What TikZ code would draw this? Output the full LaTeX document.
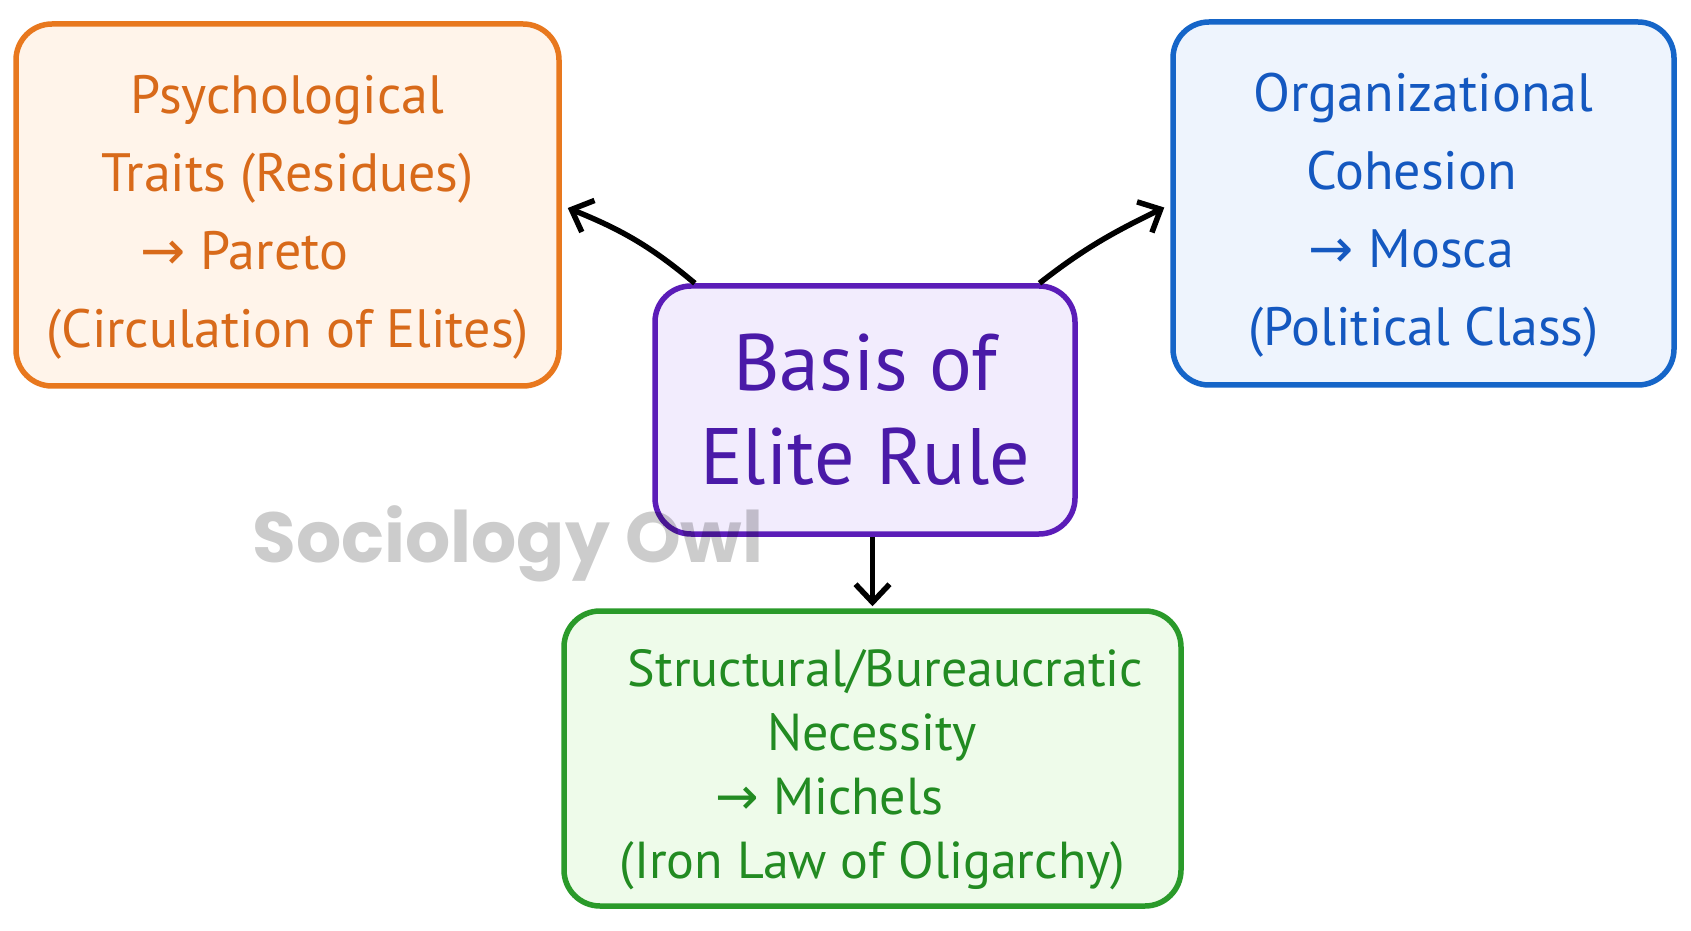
\documentclass[tikz,border=0pt]{standalone}
\usepackage{fontspec}
\setmainfont{PT Sans}
\newfontfamily\wmfont{Poppins}
\newfontfamily\arrfont{DejaVu Sans}
\usetikzlibrary{arrows.meta,calc}
\definecolor{orS}{HTML}{E8781E}
\definecolor{orF}{HTML}{FFF4EA}
\definecolor{orT}{HTML}{D86A1A}
\definecolor{blS}{HTML}{1565C8}
\definecolor{blF}{HTML}{EEF4FD}
\definecolor{blT}{HTML}{1458C0}
\definecolor{puS}{HTML}{5B1CB8}
\definecolor{puF}{HTML}{F2ECFD}
\definecolor{puT}{HTML}{4A1AA8}
\definecolor{grS}{HTML}{2A9A2A}
\definecolor{grF}{HTML}{EEFBEA}
\definecolor{grT}{HTML}{228B22}
\newcommand{\rarr}{{\arrfont →}}
\newcommand{\padr}[1]{\rule{#1}{0pt}}
\newcommand{\topstrut}[1]{\rule{0pt}{#1}}
\tikzset{
  box/.style={rounded corners=36pt, line width=5.5pt, align=center, inner sep=0pt},
  conn/.style={line width=5.5pt, black, -{Straight Barb[length=18pt,width=34pt,line width=5.5pt]}},
}
\begin{document}
\begin{tikzpicture}[x=1pt,y=1pt]
\useasboundingbox[fill=white] (0,0) rectangle (1691,930);
\node[box, draw=orS, fill=orF, text=orT, minimum width=543pt, minimum height=362pt, font=\fontsize{54}{78}\selectfont] (orange) at (287.5,725)
  {\topstrut{62pt}Psychological\\Traits (Residues)\\\rarr{} Pareto\padr{86pt}\\(Circulation of Elites)};
\node[box, draw=blS, fill=blF, text=blT, minimum width=501pt, minimum height=363pt, font=\fontsize{54}{78}\selectfont] (blue) at (1423.5,726.5)
  {\topstrut{62pt}Organizational\\Cohesion\padr{24pt}\\\rarr{} Mosca\padr{24pt}\\(Political Class)};
\node[box, draw=puS, fill=puF, text=puT, minimum width=420pt, minimum height=248pt, font=\fontsize{80}{94}\selectfont] (purple) at (865,520)
  {Basis of\\Elite Rule};
\node[text=black, opacity=0.2, font=\wmfont\bfseries\fontsize{71}{80}\selectfont, anchor=center] (wm) at (508,386) {Sociology Owl};
\node[box, draw=grS, fill=grF, text=grT, minimum width=617pt, minimum height=295pt, font=\fontsize{52}{64}\selectfont] (green) at (872.5,171.5)
  {\topstrut{60pt}\hspace*{26pt}Structural/Bureaucratic\\Necessity\\\rarr{} Michels\padr{86pt}\\(Iron Law of Oligarchy)};
\coordinate (pl) at ($(purple.north west)!0.1!(purple.north east)$);
\coordinate (pr) at ($(purple.north west)!0.91!(purple.north east)$);
\coordinate (pd) at (purple.south -| green.north);
\draw[conn] (pl) to[out=140,in=-22] ([xshift=6pt,yshift=-3pt]orange.east);
\draw[conn] (pr) to[out=38,in=206] ([xshift=-6pt,yshift=-4pt]blue.west);
\draw[conn] (pd) -- ([yshift=2pt]green.north);
\end{tikzpicture}
\end{document}
